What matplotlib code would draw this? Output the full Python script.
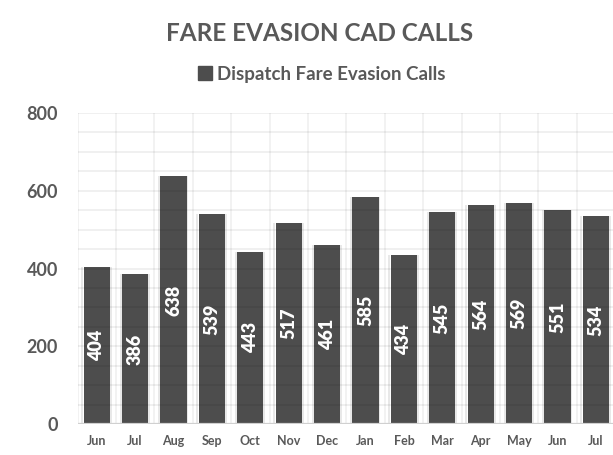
import matplotlib
matplotlib.use("Agg")
import matplotlib.pyplot as plt
from matplotlib.lines import Line2D
import numpy as np

months = ["Jun", "Jul", "Aug", "Sep", "Oct", "Nov", "Dec",
          "Jan", "Feb", "Mar", "Apr", "May", "Jun", "Jul"]
calls = [404, 386, 638, 539, 443, 517, 461, 585, 434, 545, 564, 569, 551, 534]
y_ticks = [0, 200, 400, 600, 800]

plt.rcParams['font.family'] = ['Lato', 'DejaVu Sans']
text_grey = '#595959'
bar_grey = '#4d4d4d'

fig = plt.figure(figsize=(6.13, 4.55), dpi=100)
ax = fig.add_axes([77.5 / 613, 1 - 424 / 455, 1 - 77.5 / 613, (424 - 113) / 455])

x = np.arange(len(months))
width = 0.68
bars = ax.bar(x, calls, width=width, color=bar_grey, zorder=2)

# light lines along bar sides
ax.vlines(x - width / 2 - 0.04, 0, calls, color='#e2e2e2', lw=1.1, zorder=1.5)
ax.vlines(x + width / 2 + 0.02, 0, calls, color='#e2e2e2', lw=1.1, zorder=1.5)

# gridlines drawn over the bars (darken slightly)
for yv in range(50, 801, 50):
    ax.axhline(yv, color='black', alpha=0.07, lw=1.2, zorder=3)
for xv in np.arange(-0.5, len(months), 1.0):
    ax.axvline(xv, color='black', alpha=0.06, lw=1.2, zorder=3)
ax.axhline(0, color='#d0d0d0', lw=1.6, zorder=4)

for b, v in zip(bars, calls):
    ax.text(b.get_x() + b.get_width() / 2, v / 2, str(v), rotation=90,
            ha='center', va='center', color='white', fontsize=13,
            fontweight='heavy', zorder=5)

ax.set_xlim(-0.5, 13.445)
ax.set_ylim(0, 800)
ax.set_xticks(x)
ax.set_xticklabels(months, fontsize=9, fontweight='bold', color=text_grey)
ax.set_yticks(y_ticks)
ax.set_yticklabels([str(t) for t in y_ticks], fontsize=13,
                   fontweight='bold', color=text_grey)
ax.tick_params(axis='x', length=0, pad=8)
ax.tick_params(axis='y', length=0, pad=14)
for s in ax.spines.values():
    s.set_visible(False)

fig.text(0.521, 0.927, 'FARE EVASION CAD CALLS', ha='center', va='center',
         fontsize=17.5, fontweight='bold', color=text_grey)
handle = [Line2D([], [], marker='s', color=bar_grey, linestyle='none',
                 markersize=9.5)]
fig.legend(handle, ['Dispatch Fare Evasion Calls'], loc='center',
           bbox_to_anchor=(0.523, 0.837), frameon=False, handletextpad=0.15,
           handlelength=1.0, prop={'size': 13.5, 'weight': 'bold'},
           labelcolor=text_grey)

fig.savefig('out.png', dpi=100)
